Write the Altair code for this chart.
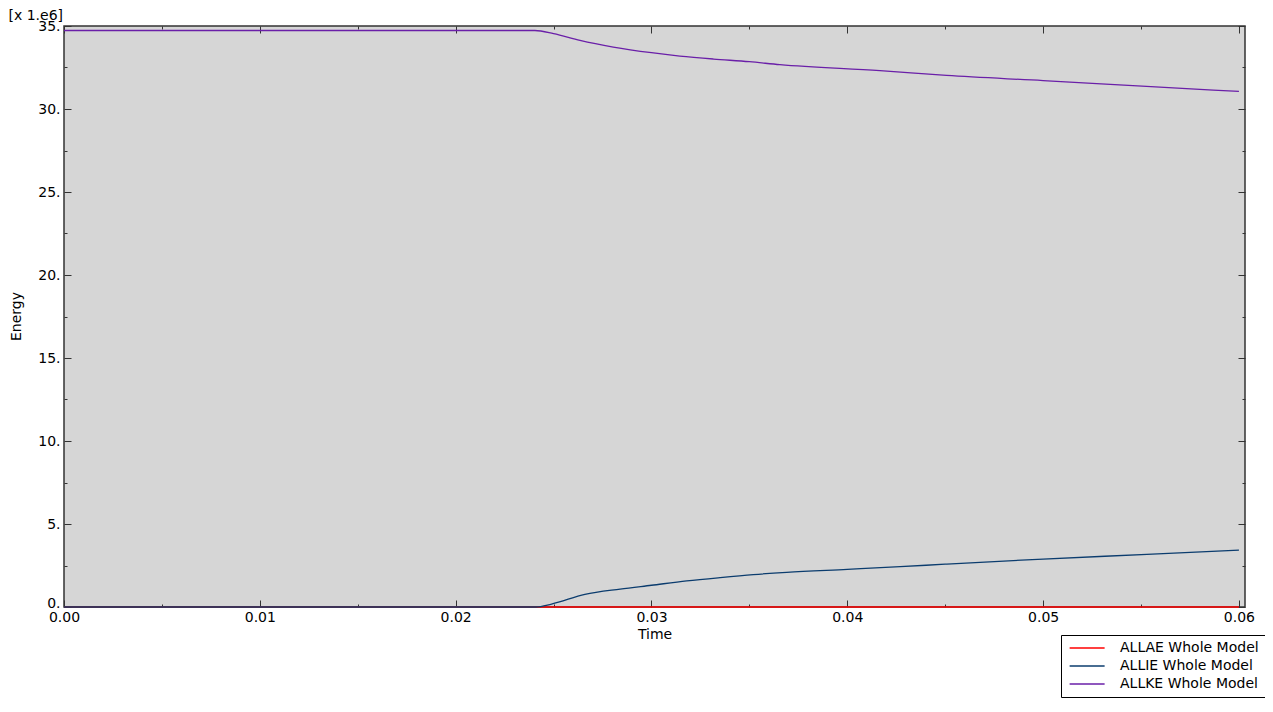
import altair as alt
import pandas as pd

series_names = ["ALLAE Whole Model", "ALLIE Whole Model", "ALLKE Whole Model"]
series_colors = ["#ff0000", "#0b3c6e", "#6a1fa8"]

# values in units of 1e6
allae_t = [0.0, 0.06]
allae_v = [0.0, 0.0]

allie_t = [0.0, 0.0241, 0.0249, 0.0266, 0.0284, 0.0300, 0.0318, 0.0335, 0.0352,
           0.0369, 0.0400, 0.0427, 0.0450, 0.0500, 0.0553, 0.0600]
allie_v = [0.0, 0.0, 0.18, 0.76, 1.08, 1.31, 1.57, 1.77, 1.95,
           2.09, 2.27, 2.43, 2.58, 2.89, 3.17, 3.43]

allke_t = [0.0, 0.02405, 0.0250, 0.02635, 0.02805, 0.0300, 0.03145, 0.03316, 0.0350,
           0.03656, 0.04167, 0.04507, 0.0500, 0.05528, 0.0600]
allke_v = [34.73, 34.73, 34.54, 34.13, 33.73, 33.39, 33.19, 33.01, 32.85,
           32.67, 32.31, 32.02, 31.71, 31.36, 31.06]

x_ticks = [0.0, 0.005, 0.01, 0.015, 0.02, 0.025, 0.03, 0.035, 0.04, 0.045, 0.05, 0.055, 0.06]
y_ticks = [0, 2.5, 5, 7.5, 10, 12.5, 15, 17.5, 20, 22.5, 25, 27.5, 30, 32.5, 35]
scale_note = "[x 1.e6]"

rows = []
for name, ts, vs in [(series_names[0], allae_t, allae_v),
                     (series_names[1], allie_t, allie_v),
                     (series_names[2], allke_t, allke_v)]:
    for t, v in zip(ts, vs):
        rows.append({"Time": t, "Energy": v, "Series": name})
df = pd.DataFrame(rows)

FONT = "DejaVu Sans"
x_scale = alt.Scale(domain=[0, 0.06031], nice=False, zero=False)
y_scale = alt.Scale(domain=[0, 35], nice=False)

x_minor = "abs(datum.value * 100 - round(datum.value * 100)) > 0.25"
y_minor = "datum.value % 5 != 0"
TICK = 7


def tick_props(test):
    return dict(
        offset=-TICK,
        tickSize=TICK,
        tickDash={"condition": {"test": test, "value": [3, 4]}, "value": []},
        tickDashOffset={"condition": {"test": test, "value": 3}, "value": 0},
        tickColor="#333333",
        tickWidth=1,
        domain=False,
        grid=False,
    )


x_axis = alt.Axis(
    orient="bottom", values=x_ticks,
    labelExpr=f"{x_minor} ? '' : format(datum.value, '.2f')",
    labelFont=FONT, labelFontSize=14, labelColor="black", labelPadding=3,
    labelFlush=False, labelOverlap=False,
    title="Time", titleFont=FONT, titleFontSize=14, titleFontWeight="normal",
    titleColor="black", titlePadding=3,
    **tick_props(x_minor),
)
y_axis = alt.Axis(
    orient="left", values=y_ticks,
    labelExpr=f"{y_minor} ? '' : format(datum.value, 'd') + '.'",
    labelFont=FONT, labelFontSize=14, labelColor="black", labelPadding=4,
    labelFlush=False, labelOverlap=False,
    labelBaseline={"condition": {"test": "datum.value == 0", "value": "alphabetic"}, "value": "middle"},
    title="Energy", titleFont=FONT, titleFontSize=14, titleFontWeight="normal",
    titleColor="black", titleAngle=270, titleAlign="center", titleBaseline="middle",
    titleX=-55, titleY=290,
    **tick_props(y_minor),
)
top_axis = alt.Axis(
    orient="top", values=x_ticks, labels=False,
    title=scale_note, titleFont=FONT, titleFontSize=14, titleFontWeight="normal",
    titleColor="black", titleAngle=0, titleAlign="left", titleBaseline="alphabetic",
    titleX=-56, titleY=-14,
    **tick_props(x_minor),
)
right_axis = alt.Axis(orient="right", values=y_ticks, labels=False, title=None, **tick_props(y_minor))

lines = alt.Chart(df).mark_line(strokeWidth=1.3, interpolate="monotone").encode(
    x=alt.X("Time:Q", scale=x_scale, axis=x_axis),
    y=alt.Y("Energy:Q", scale=y_scale, axis=y_axis),
    color=alt.Color(
        "Series:N",
        scale=alt.Scale(domain=series_names, range=series_colors),
        legend=alt.Legend(
            title=None, orient="none", legendX=997, legendY=609,
            fillColor="white", strokeColor="black", padding=6,
            symbolType="M-1,0H7", symbolSize=76.5, symbolStrokeWidth=1.5,
            labelFont=FONT, labelFontSize=14, labelColor="black",
            labelOffset=39, rowPadding=4,
        ),
    ),
)

frame = alt.Chart(df).mark_line(opacity=0).encode(
    x=alt.X("Time:Q", scale=x_scale, axis=top_axis),
    y=alt.Y("Energy:Q", scale=y_scale, axis=right_axis),
    detail="Series:N",
)

chart = (
    alt.layer(lines, frame)
    .resolve_axis(x="independent", y="independent")
    .properties(
        width=1181, height=581,
        autosize="none",
        padding={"left": 56, "top": 18, "right": 20, "bottom": 92},
    )
    .configure_view(fill="#d6d6d6", stroke="#333333", strokeWidth=1.5)
)

chart.save("out.html", embed_options={"renderer": "svg", "actions": False})
